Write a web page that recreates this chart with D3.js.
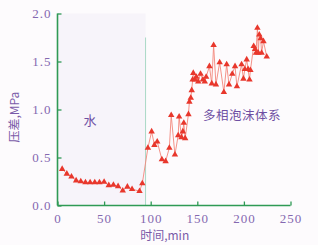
<!DOCTYPE html>
<html>
<head>
<meta charset="utf-8">
<script src="https://cdn.jsdelivr.net/npm/d3@7"></script>
<style>
   body { margin: 0; background: #fdfbfd; }
   svg { display: block; }
</style>
</head>
<body>
<div id="chart"></div>
<script>
// time, min
let timeValues = [5, 10, 15, 20, 25, 30, 35, 40, 45, 50, 55, 60, 65, 70, 75, 80, 88, 91,
   97, 101, 104, 107, 112, 116, 120, 122, 126, 129.5, 130.5, 133, 134.5, 135.5, 137, 140.5, 141.5,
   143, 144, 145, 145.7, 147.5, 149, 151, 153.5, 156, 158, 159.5, 163, 165.5, 167.5, 170, 174,
   178.5, 181.5, 184, 187.5, 190.5, 192.5, 197.5, 199.5, 201, 203, 204.5, 206, 207, 210.5, 212,
   213, 214.5, 215.5, 216.5, 218, 219, 221, 224.5]

// pressure difference, MPa
let pressureValues = [0.38, 0.33, 0.30, 0.26, 0.25, 0.24, 0.24, 0.24, 0.24, 0.245, 0.21, 0.215, 0.20, 0.155, 0.195, 0.17, 0.15, 0.23,
   0.60, 0.77, 0.63, 0.665, 0.48, 0.46, 0.60, 0.94, 0.53, 0.73, 0.925, 0.71, 0.77, 0.86, 0.70, 0.95, 1.08,
   1.12, 1.20, 1.31, 1.38, 1.31, 1.34, 1.29, 1.37, 1.31, 1.29, 1.34, 1.45, 1.27, 1.67, 1.26, 1.49,
   1.18, 1.47, 1.26, 1.37, 1.45, 1.24, 1.47, 1.32, 1.42, 1.52, 1.42, 1.31, 1.41, 1.66, 1.63,
   1.59, 1.85, 1.59, 1.78, 1.74, 1.59, 1.71, 1.55]

let xTicks = [0, 50, 100, 150, 200, 250]
let yTicks = [0, 0.5, 1.0, 1.5, 2.0]

let switchTime = 94.5   // water -> multiphase foam
let switchTop = 1.75
let regionLabels = ["水", "多相泡沫体系"]

let data = timeValues.map(function (t, i) { return { t: t, p: pressureValues[i] } })

let margin = { top: 13.5, right: 27.5, bottom: 39.5, left: 57.5 }
let width = 318 - margin.left - margin.right
let height = 245 - margin.top - margin.bottom

let axisColor = "#2f9a55"
let tickTextColor = "#8468b0"
let cnFont = "'Noto Sans CJK SC', sans-serif"

var x = d3.scaleLinear().domain([0, 250]).range([0, width])
var y = d3.scaleLinear().domain([0, 2]).range([height, 0])

let svg = d3.select("#chart").append("svg")
   .attr("width", 318)
   .attr("height", 245)

let g = svg.append("g")
   .attr("transform", "translate(" + margin.left + "," + margin.top + ")")

// water region shading
g.append("rect")
   .attr("x", x(0))
   .attr("y", y(2))
   .attr("width", x(switchTime) - x(0))
   .attr("height", y(0) - y(2))
   .attr("fill", "#f7f4fa")

// switch line
g.append("line")
   .attr("x1", x(switchTime)).attr("x2", x(switchTime))
   .attr("y1", y(switchTop)).attr("y2", y(0))
   .attr("stroke", "#a9d8c6")
   .attr("stroke-width", 1)

// axes
let xAxis = g.append("g")
   .attr("transform", "translate(0," + height + ")")
   .call(d3.axisBottom(x).tickValues(xTicks).tickSize(-4).tickPadding(8).tickFormat(d3.format("d")))

let yAxis = g.append("g")
   .call(d3.axisLeft(y).tickValues(yTicks).tickSize(-4).tickPadding(6).tickFormat(d3.format(".1f")))

;[xAxis, yAxis].forEach(function (a) {
   a.attr("font-family", "'Liberation Serif', 'DejaVu Serif', serif").attr("font-size", 13)
   a.select(".domain").attr("stroke", axisColor).attr("stroke-width", 1.6)
   a.selectAll(".tick line").attr("stroke", axisColor).attr("stroke-width", 1.3)
   a.selectAll(".tick text").attr("fill", tickTextColor).attr("letter-spacing", 1)
})
xAxis.select(".domain").attr("d", "M0,0H" + width)
yAxis.select(".domain").attr("d", "M0," + height + "V0")

// line + markers
g.append("path")
   .datum(data)
   .attr("fill", "none")
   .attr("stroke", "#f3877c")
   .attr("stroke-width", 0.9)
   .attr("d", d3.line().x(function (d) { return x(d.t) }).y(function (d) { return y(d.p) }))

g.selectAll(".marker")
   .data(data)
   .join("path")
   .attr("class", "marker")
   .attr("transform", function (d) { return "translate(" + x(d.t) + "," + y(d.p) + ")" })
   .attr("d", d3.symbol().type(d3.symbolTriangle).size(18))
   .attr("fill", "#e8372c")

// region labels
g.append("text")
   .attr("x", x(28)).attr("y", y(0.84))
   .attr("font-family", cnFont).attr("font-size", 13).attr("fill", "#6e4fa3")
   .text(regionLabels[0])

g.append("text")
   .attr("x", x(156)).attr("y", y(0.89))
   .attr("font-family", cnFont).attr("font-size", 12.5).attr("fill", "#6e4fa3")
   .attr("letter-spacing", 0.5)
   .text(regionLabels[1])

// axis titles
svg.append("text")
   .attr("x", margin.left + x(115)).attr("y", 240)
   .attr("text-anchor", "middle")
   .attr("font-family", cnFont).attr("font-size", 12).attr("fill", "#7a5aa8")
   .text("时间,min")

svg.append("text")
   .attr("transform", "translate(19," + (margin.top + y(0.92)) + ") rotate(-90)")
   .attr("text-anchor", "middle")
   .attr("font-family", cnFont).attr("font-size", 12).attr("fill", "#7a5aa8")
   .text("压差,MPa")
</script>
</body>
</html>
